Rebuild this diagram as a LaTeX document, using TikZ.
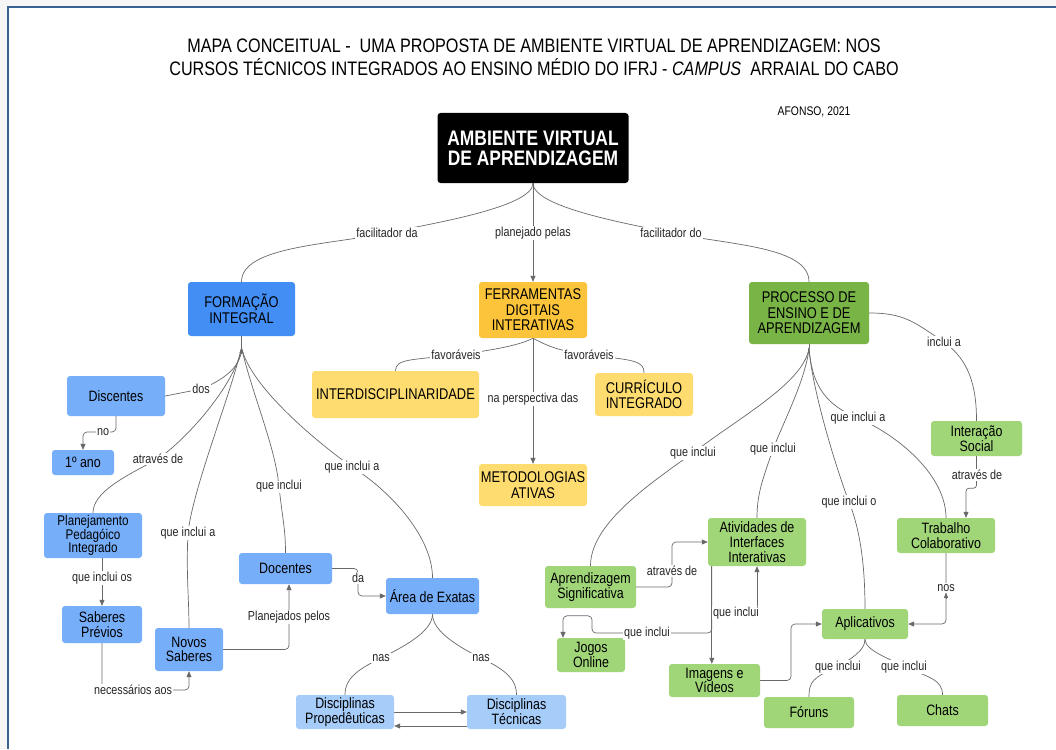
\documentclass[tikz,border=0pt]{standalone}
\usepackage{fontspec}
\setmainfont{Liberation Sans}[FakeStretch=0.83]
\usetikzlibrary{arrows.meta,calc}
\pgfdeclarelayer{back}
\pgfdeclarelayer{edges}
\pgfsetlayers{back,edges,main}
\definecolor{bggray}{RGB}{246,246,246}
\definecolor{framecol}{RGB}{60,98,146}
\definecolor{linegray}{RGB}{105,105,105}
\definecolor{fiblue}{RGB}{66,142,245}
\definecolor{ltblue}{RGB}{118,174,250}
\definecolor{paleblue}{RGB}{166,204,250}
\definecolor{amber}{RGB}{251,196,58}
\definecolor{ltyellow}{RGB}{254,220,112}
\definecolor{prgreen}{RGB}{120,180,70}
\definecolor{ltgreen}{RGB}{160,214,120}
\begin{document}
\begin{tikzpicture}[x=1pt,y=-1pt,
  box/.style={rounded corners=3pt, align=center, inner sep=0pt, text=black},
  big/.style={box, font=\fontsize{15.5}{15.5}\selectfont},
  sm/.style={box, font=\fontsize{15}{14.8}\selectfont},
  lab/.style={fill=white, inner sep=1pt, text=black!85, font=\fontsize{13}{14}\selectfont},
  conn/.style={draw=linegray, line width=0.7pt},
  arr/.style={conn, -{Triangle[length=6pt,width=5pt]}},
  tinyarr/.style={conn, -{Triangle[length=5pt,width=4pt]}}
]
\useasboundingbox (0,0) rectangle (1056,749);
\begin{pgfonlayer}{back}
  \fill[bggray] (0,0) rectangle (1056,749);
  \fill[white] (8,7) rectangle (1056,749);
  \draw[framecol, line width=2.5pt] (8,749) -- (8,7) -- (1056,7);
\end{pgfonlayer}

% title
\node[align=center, font=\fontsize{19.5}{23}\selectfont] (title) at (534,57.5)
  {MAPA CONCEITUAL -\ \ UMA PROPOSTA DE AMBIENTE VIRTUAL DE APRENDIZAGEM: NOS\\
   CURSOS TÉCNICOS INTEGRADOS AO ENSINO MÉDIO DO IFRJ - \textit{CAMPUS}\ \ ARRAIAL DO CABO};
\node[font=\fontsize{12.5}{13}\selectfont] (aut) at (814,112) {AFONSO, 2021};

% main nodes
\node[box, fill=black, text=white, font=\bfseries\fontsize{21}{20}\selectfont,
      minimum width=191pt, minimum height=70pt] (AVA) at (533,148) {AMBIENTE VIRTUAL\\DE APRENDIZAGEM};
\node[big, fill=fiblue, minimum width=107pt, minimum height=54pt] (FI) at (241.5,309) {FORMAÇÃO\\INTEGRAL};
\node[big, fill=amber, minimum width=108pt, minimum height=56pt] (FD) at (533,310) {FERRAMENTAS\\DIGITAIS\\INTERATIVAS};
\node[big, fill=prgreen, minimum width=120pt, minimum height=62pt] (PR) at (809,313) {PROCESSO DE\\ENSINO E DE\\APRENDIZAGEM};

% left (blue)
\node[sm, fill=ltblue, minimum width=98pt, minimum height=40pt] (Disc) at (116,396) {Discentes};
\node[sm, fill=ltblue, minimum width=62pt, minimum height=25pt] (Ano) at (83,462.5) {1º ano};
\node[box, fill=ltblue, font=\fontsize{14}{13.5}\selectfont, minimum width=98pt, minimum height=45pt] (PPI) at (93,535.5) {Planejamento\\Pedagóico\\Integrado};
\node[sm, fill=ltblue, minimum width=80pt, minimum height=37pt] (SP) at (102,624.5) {Saberes\\Prévios};
\node[sm, fill=ltblue, minimum width=68pt, minimum height=43pt] (NS) at (189,649.5) {Novos\\Saberes};
\node[sm, fill=ltblue, minimum width=93pt, minimum height=31pt] (Doc) at (285.5,568.5) {Docentes};
\node[sm, fill=ltblue, minimum width=93pt, minimum height=36pt] (AE) at (432.5,596) {Área de Exatas};
\node[sm, fill=paleblue, minimum width=98pt, minimum height=34pt] (DP) at (345,712) {Disciplinas\\Propedêuticas};
\node[sm, fill=paleblue, minimum width=99pt, minimum height=34pt] (DT) at (516.5,712) {Disciplinas\\Técnicas};

% middle (yellow)
\node[big, fill=ltyellow, minimum width=167pt, minimum height=47pt] (INT) at (395.5,394.5) {INTERDISCIPLINARIDADE};
\node[big, fill=ltyellow, minimum width=98pt, minimum height=43pt] (CUR) at (644,394.5) {CURRÍCULO\\INTEGRADO};
\node[big, fill=ltyellow, minimum width=108pt, minimum height=42pt] (MET) at (533,485) {METODOLOGIAS\\ATIVAS};

% right (green)
\node[sm, fill=ltgreen, minimum width=91pt, minimum height=35pt] (IS) at (976.5,438.5) {Interação\\Social};
\node[sm, fill=ltgreen, minimum width=98pt, minimum height=35pt] (TC) at (946,535.5) {Trabalho\\Colaborativo};
\node[sm, fill=ltgreen, minimum width=98pt, minimum height=48pt] (AT) at (757,542) {Atividades de\\Interfaces\\Interativas};
\node[sm, fill=ltgreen, minimum width=91pt, minimum height=42pt] (AS) at (590.5,587) {Aprendizagem\\Significativa};
\node[sm, fill=ltgreen, minimum width=68pt, minimum height=34pt] (JO) at (591,655) {Jogos\\Online};
\node[sm, fill=ltgreen, minimum width=91pt, minimum height=33pt] (IV) at (714.5,680.5) {Imagens e\\Vídeos};
\node[sm, fill=ltgreen, minimum width=86pt, minimum height=30pt] (AP) at (865,624) {Aplicativos};
\node[sm, fill=ltgreen, minimum width=90pt, minimum height=31pt] (FO) at (809,712.5) {Fóruns};
\node[sm, fill=ltgreen, minimum width=91pt, minimum height=31pt] (CH) at (942.5,710.5) {Chats};

% labels
\node[lab] (L1) at (387,233) {facilitador da};
\node[lab] (L2) at (533,233) {planejado pelas};
\node[lab] (L3) at (671,233) {facilitador do};
\node[lab] (Ldos) at (201,389) {dos};
\node[lab] (Lno) at (103,432) {no};
\node[lab] (Latr1) at (158,459) {através de};
\node[lab] (Lqia1) at (188,533) {que inclui a};
\node[lab] (Lqi1) at (279,486) {que inclui};
\node[lab] (Lqia2) at (352,467) {que inclui a};
\node[lab] (Lqios) at (102,578) {que inclui os};
\node[lab] (Lnec) at (133,690) {necessários aos};
\node[lab] (Lpp) at (289,617) {Planejados pelos};
\node[lab] (Lda) at (358,578) {da};
\node[lab] (Lnas1) at (381,658) {nas};
\node[lab] (Lnas2) at (481,658) {nas};
\node[lab] (Lfav1) at (456,355) {favoráveis};
\node[lab] (Lfav2) at (589,355) {favoráveis};
\node[lab] (Lnp) at (533,399) {na perspectiva das};
\node[lab] (Lia) at (944,342) {inclui a};
\node[lab] (Latr2) at (977,475) {através de};
\node[lab] (Lqia3) at (858,418) {que inclui a};
\node[lab] (Lqio2) at (849,502) {que inclui o};
\node[lab] (Lqi2) at (773,449) {que inclui};
\node[lab] (Lqi3) at (693,453) {que inclui};
\node[lab] (Latr3) at (672,571) {através de};
\node[lab] (Lqi4) at (647,633) {que inclui};
\node[lab] (Lqi5) at (736,613) {que inclui};
\node[lab] (Lnos) at (946,588) {nos};
\node[lab] (Lqi6) at (838,667) {que inclui};
\node[lab] (Lqi7) at (904,667) {que inclui};

\coordinate (FIh) at (241.5,348);
\coordinate (PRh) at (809,348);
\coordinate (atl) at ($(AT.south west)+(4,0)$);

\begin{pgfonlayer}{edges}
  % from AVA
  \draw[conn] (AVA.south) .. controls +(0,25) and +(35,-8) .. (L1.center)
              .. controls +(-60,12) and +(0,-35) .. (FI.north);
  \draw[arr] (AVA.south) -- (FD.north);
  \draw[conn] (AVA.south) .. controls +(0,25) and +(-35,-8) .. (L3.center)
              .. controls +(60,12) and +(0,-35) .. (PR.north);
  % formacao integral hub
  \draw[conn] (FI.south) -- (FIh);
  \draw[conn] (FIh) .. controls +(0,20) and +(20,-8) .. (Ldos.center) -- (Disc.east);
  \draw[conn] (FIh) .. controls +(-5,32) and +(35,-25) .. (Latr1.center)
              .. controls +(-35,18) and +(0,-20) .. (PPI.north);
  \draw[conn] (FIh) .. controls +(-12,50) and +(5,-45) .. (Lqia1.center)
              .. controls +(-2,40) and +(0,-30) .. (NS.north);
  \draw[conn] (FIh) .. controls +(12,50) and +(-4,-40) .. (Lqi1.center)
              .. controls +(3,30) and +(0,-25) .. (Doc.north);
  \draw[conn] (FIh) .. controls +(10,40) and +(-35,-25) .. (Lqia2.center)
              .. controls +(40,25) and +(0,-40) .. (AE.north);
  \draw[tinyarr] ($(FIh)+(0,5)$) -- (FIh);
  % left block
  \draw[arr, rounded corners=4pt] (Disc.south) |- (Lno.center) -| (Ano.north);
  \draw[arr] (SP.north |- PPI.south) -- (SP.north);
  \draw[arr, rounded corners=4pt] (SP.south) |- (Lnec.center) -| (NS.south);
  \draw[arr, rounded corners=4pt] (NS.east) -| (Lpp.center) -- (Lpp |- Doc.south);
  \draw[arr, rounded corners=4pt] (Doc.east) -| (Lda.center) |- (AE.west);
  \draw[conn] (AE.south) .. controls +(0,18) and +(20,-10) .. (Lnas1.center)
              .. controls +(-20,10) and +(0,-18) .. (DP.north);
  \draw[conn] (AE.south) .. controls +(0,18) and +(-20,-10) .. (Lnas2.center)
              .. controls +(20,10) and +(0,-18) .. (DT.north);
  \draw[arr] (DP.east) -- (DT.west);
  \draw[arr] ($(DT.west)+(0,14)$) -- ($(DP.east)+(0,14)$);
  % ferramentas
  \draw[conn] (FD.south) .. controls +(-15,8) and +(30,-4) .. (Lfav1.center)
              .. controls +(-45,5) and +(0,-12) .. (INT.north);
  \draw[conn] (FD.south) .. controls +(15,8) and +(-30,-4) .. (Lfav2.center)
              .. controls +(45,5) and +(0,-12) .. (CUR.north);
  \draw[arr] (FD.south) -- (MET.north);
  % processo
  \draw[conn] (PR.south) -- (PRh);
  \draw[conn] (PR.east) .. controls +(35,0) and +(-30,-20) .. (Lia.center)
              .. controls +(25,18) and +(0,-35) .. (IS.north);
  \draw[arr, rounded corners=3pt] (IS.south) -- ($(IS.south)+(0,32)$) -| ($(TC.north)+(20,0)$);
  \draw[conn] (PRh) .. controls +(3,40) and +(-30,-12) .. (Lqia3.center)
              .. controls +(45,20) and +(0,-40) .. (TC.north);
  \draw[conn] (PRh) .. controls +(3,40) and +(-15,-40) .. (Lqio2.center)
              .. controls +(12,30) and +(0,-40) .. (AP.north);
  \draw[conn] (PRh) .. controls +(-3,30) and +(12,-30) .. (Lqi2.center)
              .. controls +(-10,30) and +(0,-25) .. (AT.north);
  \draw[conn] (PRh) .. controls +(-5,35) and +(45,-35) .. (Lqi3.center)
              .. controls +(-50,35) and +(0,-40) .. (AS.north);
  \draw[arr, rounded corners=4pt] (AS.east) -| (Latr3.center) |- (AT.west);
  \draw[arr] (atl) -- (atl |- IV.north);
  \draw[arr, rounded corners=4pt] (atl) |- (Lqi4.center) -| ($(JO.north)+(1,-22)$) -| ($(JO.north)+(-28,0)$);
  \draw[arr] (AT.south |- Lqi5.north) -- (AT.south);
  \draw[arr, rounded corners=4pt] (IV.east) -| ($(IV.east)!0.5!(AP.west)$) |- (AP.west);
  \draw[arr, rounded corners=4pt] (TC.south) |- (AP.east);
  \draw[tinyarr] ($(Lnos.south)+(0,6)$) -- (Lnos.south);
  \draw[conn] (AP.south) .. controls +(0,12) and +(12,-8) .. (Lqi6.center)
              .. controls +(-25,10) and +(0,-15) .. (FO.north);
  \draw[conn] (AP.south) .. controls +(0,12) and +(-12,-8) .. (Lqi7.center)
              .. controls +(25,10) and +(0,-15) .. (CH.north);
\end{pgfonlayer}
\end{tikzpicture}
\end{document}
